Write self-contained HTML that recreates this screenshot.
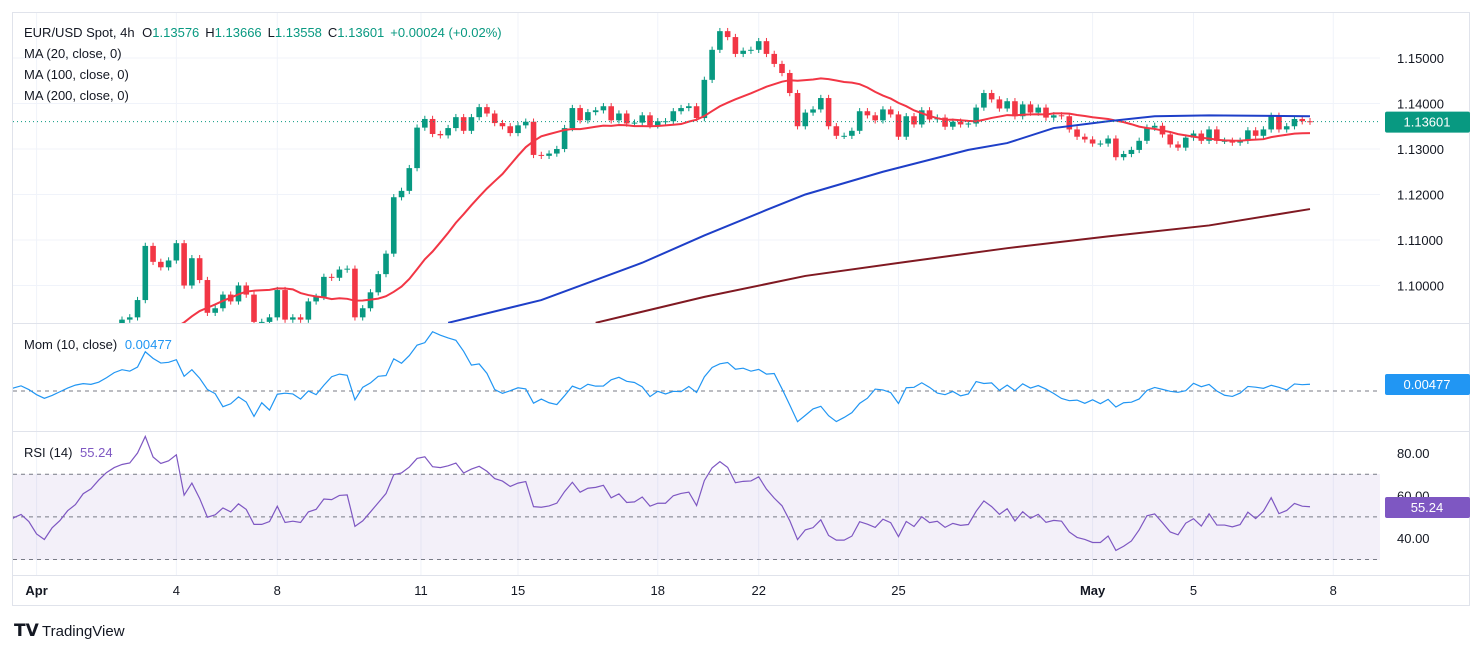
<!DOCTYPE html>
<html><head><meta charset="utf-8"><style>
body{margin:0;background:#fff;font-family:"Liberation Sans",sans-serif;}
svg{display:block}
text{font-family:"Liberation Sans",sans-serif;}
</style></head><body>
<svg id="chart" width="1481" height="651" viewBox="0 0 1481 651" xmlns="http://www.w3.org/2000/svg">
<defs>
<clipPath id="mainClip"><rect x="13" y="13" width="1367" height="310"/></clipPath>
<clipPath id="momClip"><rect x="13" y="324" width="1367" height="106"/></clipPath>
<clipPath id="rsiClip"><rect x="13" y="432" width="1367" height="142"/></clipPath>
</defs>
<rect x="12.5" y="12.5" width="1457" height="593" fill="#fff" stroke="#e0e3eb"/>
<g id="grid"></g>
<line x1="13" y1="323.5" x2="1469" y2="323.5" stroke="#e0e3eb"/>
<line x1="13" y1="431.5" x2="1469" y2="431.5" stroke="#e0e3eb"/>
<line x1="13" y1="575.5" x2="1469" y2="575.5" stroke="#e0e3eb"/>
<rect x="13" y="474" width="1367" height="86" fill="#7e57c2" fill-opacity="0.09"/>
<g id="main" clip-path="url(#mainClip)"></g>
<g id="mom" clip-path="url(#momClip)"></g>
<g id="rsi" clip-path="url(#rsiClip)"></g>
<g id="axes"></g>
<g font-size="13" fill="#131722">
<text x="24" y="37">EUR/USD Spot, 4h <tspan dx="4">O</tspan><tspan fill="#089981">1.13576</tspan><tspan dx="6">H</tspan><tspan fill="#089981">1.13666</tspan><tspan dx="6">L</tspan><tspan fill="#089981">1.13558</tspan><tspan dx="6">C</tspan><tspan fill="#089981">1.13601</tspan><tspan dx="6" fill="#089981">+0.00024 (+0.02%)</tspan></text>
<text x="24" y="58">MA (20, close, 0)</text>
<text x="24" y="79">MA (100, close, 0)</text>
<text x="24" y="100">MA (200, close, 0)</text>
<text x="24" y="349">Mom (10, close) <tspan dx="4" fill="#2196f3">0.00477</tspan></text>
<text x="24" y="457">RSI (14) <tspan dx="4" fill="#7e57c2">55.24</tspan></text>
</g>
<g>
<text x="14" y="636" font-size="17" font-weight="bold" fill="#131722">𝗧𝗩</text>
<text x="42" y="636" font-size="15" fill="#131722">TradingView</text>
</g>
</svg>
<script>
const preCloses=[1.0820,1.0815,1.0800,1.0790,1.0805,1.0810,1.0795,1.0785,1.0800,1.0815,1.0830,1.0825,1.0810,1.0800,1.0790,1.0800,1.0815,1.0820,1.0810,1.0790,1.0780,1.0795,1.0805,1.0820,1.0830,1.0850,1.0860,1.0880,1.0900,1.0915];
const closes=[1.0925,1.0930,1.0968,1.1087,1.1052,1.1040,1.1055,1.1093,1.1000,1.1060,1.1012,1.0940,1.0950,1.0980,1.0965,1.1000,1.0980,1.0920,1.0920,1.0930,1.0990,1.0925,1.0930,1.0925,1.0965,1.0975,1.1019,1.1017,1.1035,1.1037,1.0930,1.0950,1.0985,1.1025,1.1070,1.1194,1.1208,1.1258,1.1347,1.1366,1.1333,1.1330,1.1346,1.1370,
1.1340,1.1370,1.1392,1.1378,1.1357,1.1350,1.1335,1.1352,1.1360,1.1287,1.1285,1.1290,1.1300,1.1346,1.1390,1.1363,1.1381,1.1385,1.1394,1.1363,1.1378,1.1356,1.1358,1.1374,1.1352,1.1361,1.1361,1.1383,1.1390,1.1394,1.1368,1.1452,1.1518,1.1559,1.1546,1.1509,1.1516,1.1518,1.1537,1.1509,1.1487,1.1467,1.1423,1.1350,1.1380,1.1387,1.1412,1.1350,1.1329,1.1329,1.1340,1.1383,1.1374,1.1363,1.1387,1.1376,1.1327,
1.1372,1.1354,1.1385,1.1365,1.1369,1.1349,1.1360,1.1354,1.1356,1.1391,1.1423,1.1409,1.1389,1.1405,1.1372,1.1398,1.1380,1.1391,1.1369,1.1374,1.1372,1.1343,1.1327,1.1321,1.1312,1.1312,1.1323,1.1282,1.1289,1.1298,1.1318,1.1347,1.1351,1.1332,1.1310,1.1303,1.1325,1.1334,1.1318,1.1343,1.1318,1.1318,1.1314,1.1318,1.1341,1.1329,1.1343,1.1373,1.1343,1.1350,1.1366,1.1361,1.1360];
// MA100 / MA200 sampled at visible candle indices
const ma100Idx=[42,54,67,75,83,88,98,109,114,120,127,133,140,153];
const ma100Val=[1.0918,1.0968,1.1050,1.1110,1.1166,1.1200,1.1250,1.1298,1.1313,1.1346,1.1361,1.1372,1.1374,1.1372];
const ma200Idx=[61,75,88,101,114,127,140,153];
const ma200Val=[1.0918,1.0975,1.1021,1.1052,1.1082,1.1108,1.1132,1.1168];
const priceTicks=[1.10,1.11,1.12,1.13,1.14,1.15];
const timeLabels=["Apr","4","8","11","15","18","22","25","May","5","8"];
const timeIdx=[-11,7,20,38.5,51,69,82,100,125,138,156];
const lastPrice=1.13601, momLast="0.00477", rsiLast="55.24";

const NS="http://www.w3.org/2000/svg";
function el(tag,attrs,parent){const e=document.createElementNS(NS,tag);for(const k in attrs)e.setAttribute(k,attrs[k]);parent.appendChild(e);return e;}
const all=preCloses.concat(closes), P=preCloses.length;
const X0=122, step=(1310-122)/(closes.length-1);
const xOf=i=>X0+(i-P)*step;           // i = index in all
const xVis=i=>X0+i*step;              // i = visible index
const yP=p=>58+(1.15-p)*4550;
const yM=m=>391-m*1470;
const yR=r=>453+(80-r)*2.13;
const main=document.getElementById('main'),mom=document.getElementById('mom'),rsiG=document.getElementById('rsi'),axes=document.getElementById('axes'),grid=document.getElementById('grid');

// grid
priceTicks.forEach(t=>{const l=el('line',{x1:13,x2:1380,y1:yP(t),y2:yP(t),stroke:'#f0f3fa'},grid);
});
timeIdx.forEach(ti=>{const x=xVis(ti);const l=el('line',{x1:x,x2:x,y1:13,y2:575,stroke:'#f0f3fa'},grid);
});

// candles
for(let i=P;i<all.length;i++){
  const c=all[i],o=all[i-1],up=c>=o,col=up?'#089981':'#f23645',x=xOf(i);
  const hi=Math.max(o,c)+0.0007,lo=Math.min(o,c)-0.0007;
  const g=el('g',{},main);
  
  
  el('line',{x1:x,x2:x,y1:yP(hi),y2:yP(lo),stroke:col,'stroke-width':1},g);
  const t=yP(Math.max(o,c)),b=yP(Math.min(o,c));
  el('rect',{x:x-2.8,y:t,width:5.6,height:Math.max(1,b-t),fill:col},g);
}
// MA20
let pts=[];
for(let i=19;i<all.length;i++){let s=0;for(let k=i-19;k<=i;k++)s+=all[k];pts.push(xOf(i)+','+yP(s/20));}
let l=el('polyline',{points:pts.join(' '),fill:'none',stroke:'#f23645','stroke-width':2},main);

pts=ma100Idx.map((v,k)=>xVis(v)+','+yP(ma100Val[k]));
l=el('polyline',{points:pts.join(' '),fill:'none',stroke:'#1e3fc8','stroke-width':2},main);

pts=ma200Idx.map((v,k)=>xVis(v)+','+yP(ma200Val[k]));
l=el('polyline',{points:pts.join(' '),fill:'none',stroke:'#801922','stroke-width':2},main);

l=el('line',{x1:13,x2:1380,y1:yP(lastPrice),y2:yP(lastPrice),stroke:'#089981','stroke-dasharray':'1 3'},main);


// momentum
pts=[];
for(let i=10;i<all.length;i++)pts.push(xOf(i)+','+yM(all[i]-all[i-10]));
l=el('line',{x1:13,x2:1380,y1:391,y2:391,stroke:'#787b86','stroke-dasharray':'4 4'},mom);

l=el('polyline',{points:pts.join(' '),fill:'none',stroke:'#2196f3','stroke-width':1.2},mom);


// RSI
[70,50,30].forEach(v=>{const ln=el('line',{x1:13,x2:1380,y1:yR(v),y2:yR(v),stroke:'#787b86','stroke-dasharray':'4 4'},rsiG);
});
let ag=0,al=0;pts=[];
for(let i=1;i<all.length;i++){const d=all[i]-all[i-1],g=Math.max(d,0),lo=Math.max(-d,0);
  if(i<=14){ag+=g/14;al+=lo/14;}else{ag=(ag*13+g)/14;al=(al*13+lo)/14;}
  if(i>=14){const r=al===0?100:100-100/(1+ag/al);pts.push(xOf(i)+','+yR(r));}}
l=el('polyline',{points:pts.join(' '),fill:'none',stroke:'#7e57c2','stroke-width':1.2},rsiG);


// axis labels
priceTicks.forEach(t=>{const tx=el('text',{x:1397,y:yP(t)+5,'font-size':13,fill:'#131722'},axes);tx.textContent=t.toFixed(5);
});
[80,60,40].forEach(v=>{const tx=el('text',{x:1397,y:yR(v)+5,'font-size':13,fill:'#131722'},axes);tx.textContent=v.toFixed(2);
});
timeLabels.forEach((s,k)=>{const tx=el('text',{x:xVis(timeIdx[k]),y:595,'font-size':13,fill:'#131722','text-anchor':'middle','font-weight':(s==='Apr'||s==='May')?'bold':'normal'},axes);tx.textContent=s;
});
function badge(y,txt,col,name){const g=el('g',{},axes);


el('rect',{x:1385,y:y-10,width:85,height:21,fill:col,rx:2},g);
const t=el('text',{x:1427,y:y+5,'font-size':13,fill:'#fff','text-anchor':'middle'},g);t.textContent=txt;}
badge(yP(lastPrice),lastPrice.toFixed(5),'#089981','last-price-badge');
badge(384,momLast,'#2196f3','mom-value-badge');
badge(507,rsiLast,'#7e57c2','rsi-value-badge');
</script>
</body></html>
